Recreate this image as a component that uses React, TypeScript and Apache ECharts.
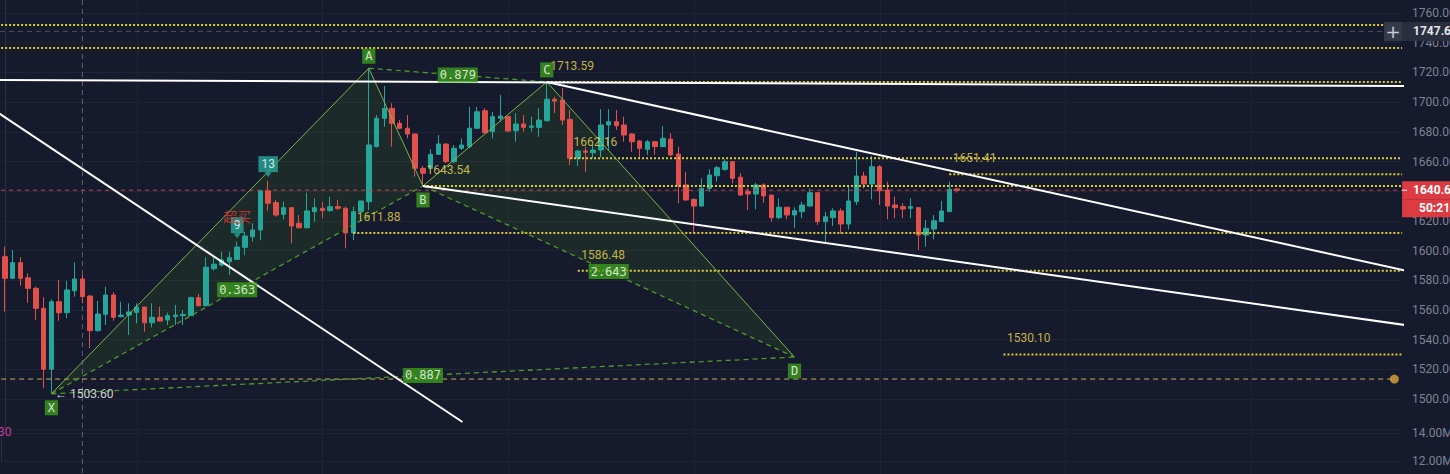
import React, { useEffect, useRef } from 'react';
import * as echarts from 'echarts';

// ---------- data ----------
const N = 181; // visible bar slots (candles + empty future area)
const categories: string[] = Array.from({ length: N }, (_, i) => String(i));

// [open, close, low, high]
const candles: number[][] = [
  [1595.9, 1581.3, 1558.9, 1602.6], [1581.3, 1591.9, 1580.9, 1600.4], [1591.9, 1581.3, 1576.2, 1595.5],
  [1581.7, 1574.6, 1564.9, 1584.7], [1574.6, 1561.1, 1553.3, 1575.7], [1561.1, 1520.1, 1507.3, 1568.5],
  [1520.1, 1565.6, 1503.6, 1567.2], [1565.6, 1558.2, 1552.8, 1580.2], [1558.2, 1573.5, 1554.4, 1579.5],
  [1573.0, 1580.9, 1569.0, 1592.1], [1580.9, 1569.0, 1564.5, 1583.6], [1569.4, 1546.1, 1534.2, 1570.1],
  [1546.1, 1557.3, 1545.5, 1566.1], [1557.1, 1570.1, 1549.9, 1575.7], [1570.1, 1555.1, 1552.8, 1571.9],
  [1555.5, 1556.6, 1555.0, 1565.6], [1556.6, 1558.7, 1543.2, 1564.5], [1558.4, 1562.0, 1551.0, 1564.5],
  [1562.0, 1551.4, 1545.4, 1562.2], [1551.4, 1555.1, 1548.3, 1564.5], [1555.1, 1552.6, 1552.1, 1562.2],
  [1553.3, 1556.2, 1549.9, 1558.2], [1555.5, 1556.6, 1549.9, 1563.4], [1556.2, 1557.1, 1549.9, 1560.0],
  [1556.2, 1568.3, 1556.0, 1569.0], [1568.3, 1562.9, 1562.5, 1570.8], [1562.9, 1588.8, 1562.5, 1595.5],
  [1587.8, 1590.8, 1586.5, 1595.5], [1590.3, 1593.7, 1589.2, 1599.3], [1592.5, 1595.2, 1583.6, 1599.3],
  [1594.1, 1602.4, 1593.7, 1606.0], [1602.2, 1609.8, 1597.0, 1612.7], [1609.4, 1613.9, 1606.0, 1618.4],
  [1613.9, 1640.3, 1607.1, 1640.6], [1640.3, 1631.9, 1626.9, 1647.1], [1632.3, 1624.0, 1622.8, 1634.1],
  [1624.4, 1628.9, 1621.1, 1632.9], [1628.9, 1616.6, 1604.9, 1629.2], [1618.4, 1615.4, 1615.0, 1624.0],
  [1615.4, 1626.7, 1615.0, 1639.0], [1626.2, 1628.9, 1619.5, 1635.2], [1628.5, 1626.9, 1621.8, 1632.9],
  [1626.9, 1629.6, 1626.2, 1636.3], [1629.6, 1628.5, 1627.3, 1634.1], [1628.5, 1611.88, 1601.5, 1629.6],
  [1611.9, 1626.2, 1607.1, 1629.6], [1626.2, 1633.4, 1626.0, 1633.6], [1632.9, 1671.1, 1627.3, 1722.8],
  [1670.0, 1689.1, 1669.5, 1691.3], [1689.1, 1695.8, 1683.4, 1710.8], [1695.8, 1685.7, 1670.0, 1699.2],
  [1685.7, 1682.4, 1681.7, 1687.9], [1682.4, 1678.5, 1675.6, 1691.3], [1678.5, 1655.4, 1649.8, 1678.8],
  [1655.4, 1652.1, 1643.54, 1657.0], [1655.4, 1664.8, 1654.3, 1668.2], [1664.8, 1671.8, 1664.4, 1677.8],
  [1671.8, 1659.9, 1658.8, 1672.0], [1659.9, 1668.9, 1658.8, 1671.1], [1668.9, 1671.1, 1667.7, 1675.6],
  [1670.0, 1682.4, 1668.9, 1696.9], [1682.4, 1693.5, 1682.0, 1696.9], [1694.2, 1679.4, 1679.0, 1695.8],
  [1680.1, 1690.2, 1675.6, 1693.5], [1689.1, 1690.6, 1686.8, 1704.8], [1690.2, 1680.5, 1680.1, 1690.3],
  [1680.7, 1685.3, 1673.3, 1692.5], [1685.3, 1683.0, 1680.1, 1691.3], [1683.0, 1683.9, 1680.1, 1690.2],
  [1683.0, 1687.9, 1676.7, 1695.8], [1687.5, 1701.9, 1687.0, 1713.59], [1701.9, 1700.7, 1692.5, 1703.6],
  [1701.4, 1687.9, 1684.6, 1709.3], [1688.4, 1662.16, 1657.6, 1694.7], [1662.2, 1667.1, 1657.0, 1667.8],
  [1667.1, 1666.2, 1653.1, 1670.0], [1665.9, 1667.7, 1662.2, 1671.1], [1667.7, 1684.6, 1662.8, 1695.2],
  [1684.6, 1686.8, 1667.7, 1695.2], [1686.8, 1684.1, 1681.2, 1694.7], [1684.6, 1677.8, 1673.3, 1690.2],
  [1678.5, 1673.3, 1666.6, 1679.0], [1673.8, 1668.9, 1662.2, 1674.5], [1668.2, 1673.3, 1664.4, 1674.5],
  [1673.3, 1670.0, 1664.4, 1673.5], [1670.0, 1675.6, 1669.8, 1683.9], [1675.1, 1664.4, 1663.7, 1679.0],
  [1665.0, 1643.5, 1631.9, 1670.0], [1644.2, 1634.1, 1633.6, 1653.1], [1634.5, 1630.0, 1611.6, 1635.2],
  [1630.0, 1641.9, 1629.8, 1648.7], [1641.9, 1650.9, 1639.7, 1654.7], [1650.4, 1655.8, 1646.4, 1657.0],
  [1654.7, 1659.9, 1653.8, 1661.5], [1659.9, 1648.7, 1645.3, 1660.2], [1649.4, 1637.4, 1637.0, 1652.1],
  [1639.7, 1638.1, 1627.3, 1641.9], [1638.1, 1644.2, 1627.8, 1645.7], [1644.2, 1636.8, 1632.3, 1645.3],
  [1637.4, 1622.2, 1619.5, 1637.6], [1622.2, 1629.2, 1621.1, 1635.2], [1629.2, 1624.0, 1621.1, 1629.4],
  [1624.0, 1626.9, 1615.0, 1629.2], [1626.2, 1630.7, 1621.8, 1632.9], [1630.0, 1639.0, 1629.6, 1641.9],
  [1639.0, 1619.5, 1617.2, 1639.2], [1619.5, 1622.8, 1604.9, 1626.2], [1622.2, 1626.7, 1616.6, 1628.5],
  [1626.7, 1617.9, 1611.2, 1628.5], [1617.9, 1633.4, 1614.3, 1644.2], [1632.9, 1650.2, 1630.7, 1666.6],
  [1650.2, 1644.8, 1641.9, 1653.1], [1644.8, 1656.5, 1634.5, 1663.7], [1656.5, 1640.3, 1630.7, 1657.6],
  [1640.8, 1630.0, 1621.1, 1646.4], [1630.7, 1628.9, 1621.8, 1636.3], [1629.6, 1628.0, 1621.8, 1631.9],
  [1628.5, 1629.6, 1621.8, 1635.2], [1628.9, 1610.5, 1600.4, 1629.2], [1610.5, 1615.0, 1602.6, 1620.6],
  [1614.5, 1620.1, 1607.6, 1624.0], [1619.5, 1626.7, 1619.3, 1633.4], [1626.2, 1641.3, 1626.0, 1646.4],
  [1641.5, 1640.6, 1639.1, 1641.9],
];

// horizontal levels: start bar index, price, label
const levelStarts: number[] = [-0.5, -0.5, 70, 73, 122, 54, 45, 74, 129];
const levelPrices: number[] = [1752.0, 1736.4, 1713.59, 1662.16, 1651.41, 1643.54, 1611.88, 1586.48, 1530.10];
const levelShowLabel: boolean[] = [false, false, true, true, true, true, true, true, true];

const supportPrice = 1513.5;
const supportDotIdx = 179.5;
const currentPrice = 1640.63;
const countdown = '50:21';
const crossPrice = 1747.62;
const crossIdx = 10;
const vGridIdx: number[] = [17, 41, 65, 89, 113, 137, 161];

// white trend lines: [[idx, price], [idx, price]]
const trendLines: number[][][] = [
  [[-1, 1714.9], [181, 1710.8]],
  [[70, 1713.59], [181, 1586.5]],
  [[54, 1643.54], [181, 1549.8]],
  [[-1, 1693.2], [59.1, 1484.6]],
];

// harmonic XABCD pattern
const patternNames: string[] = ['X', 'A', 'B', 'C', 'D'];
const patternIdx: number[] = [6, 47, 54, 70, 102];
const patternPrice: number[] = [1503.6, 1722.8, 1643.54, 1713.59, 1528.3];
const patternLabelBelow: boolean[] = [true, false, true, false, true];
const solidEdges: number[][] = [[0, 1], [1, 2], [2, 3], [3, 4]];
const dashedEdges: number[][] = [[0, 2], [1, 3], [2, 4], [0, 4]];
const ratioLabels: string[] = ['0.363', '0.879', '2.643', '0.887'];
const triangles: number[][] = [[0, 1, 2], [2, 3, 4]];

// TD sequential labels
const tdIdx: number[] = [30, 34];
const tdText: string[] = ['9', '13'];
const overboughtIdx = 30;
const overboughtText = '超买';

// volume axis
const volMin = 12;
const volMax = 14;

// ---------- style ----------
const BG = '#151a2c';
const UP = '#26a69a';
const DOWN = '#e2504c';
const GRIDC = '#1e2336';
const YEL = '#dccb3a';
const YEL_TXT = '#efdc4c';
const GREEN_BOX = '#3b9a1c';
const AXIS_TXT = '#7e8496';

export default function App() {
  const ref = useRef<HTMLDivElement>(null);

  useEffect(() => {
    if (!ref.current) return;
    const chart = echarts.init(ref.current, undefined, { renderer: 'svg' });

    const levelSeries = levelPrices.map((p, i) => ({
      type: 'line', xAxisIndex: 1, yAxisIndex: 0, silent: true, z: 3,
      symbol: 'none',
      data: [[levelStarts[i], p], [N - 0.5, p]],
      lineStyle: { color: YEL, width: 2, type: 'dotted' },
    }));

    const levelLabelSeries = {
      type: 'scatter', xAxisIndex: 1, yAxisIndex: 0, silent: true, z: 6,
      symbolSize: 1, itemStyle: { color: 'rgba(0,0,0,0)' },
      data: levelPrices.map((p, i) => ({ value: [levelStarts[i], p], label: { show: levelShowLabel[i] } })),
      label: {
        position: 'right', distance: 0, offset: [3, -16], color: YEL_TXT, fontSize: 12,
        fontFamily: 'Roboto, sans-serif',
        formatter: (pr: any) => (pr.value[1] as number).toFixed(2),
      },
    };

    const trendSeries = trendLines.map((l) => ({
      type: 'line', xAxisIndex: 1, yAxisIndex: 0, silent: true, z: 4, symbol: 'none',
      data: l, lineStyle: { color: '#ffffff', width: 2 },
    }));

    const pt = (k: number) => [patternIdx[k], patternPrice[k]];
    const solidSeries = solidEdges.map((e) => ({
      type: 'line', xAxisIndex: 1, yAxisIndex: 0, silent: true, z: 3, symbol: 'none',
      data: [pt(e[0]), pt(e[1])], lineStyle: { color: '#7ab648', width: 1 },
    }));
    const dashedSeries = dashedEdges.map((e) => ({
      type: 'line', xAxisIndex: 1, yAxisIndex: 0, silent: true, z: 3, symbol: 'none',
      data: [pt(e[0]), pt(e[1])], lineStyle: { color: '#4f9a2a', width: 1.3, type: [5, 4] },
    }));

    const ratioSeries = {
      type: 'scatter', xAxisIndex: 1, yAxisIndex: 0, silent: true, z: 7,
      symbolSize: 1, itemStyle: { color: 'rgba(0,0,0,0)' },
      data: dashedEdges.map((e, i) => ({
        value: [(patternIdx[e[0]] + patternIdx[e[1]]) / 2, (patternPrice[e[0]] + patternPrice[e[1]]) / 2],
        name: ratioLabels[i],
      })),
      label: {
        show: true, position: 'inside', formatter: '{b}', color: '#ffffff', fontSize: 12,
        fontFamily: 'DejaVu Sans Mono, monospace', backgroundColor: GREEN_BOX, padding: [1, 2], lineHeight: 13,
      },
    };

    const letterSeries = {
      type: 'scatter', xAxisIndex: 1, yAxisIndex: 0, silent: true, z: 7,
      symbolSize: 1, itemStyle: { color: 'rgba(0,0,0,0)' },
      data: patternNames.map((n, k) => ({
        value: pt(k), name: n,
        label: { position: patternLabelBelow[k] ? 'bottom' : 'top', distance: patternLabelBelow[k] ? 6 : 4 },
      })),
      label: {
        show: true, formatter: '{b}', color: '#ffffff', fontSize: 12,
        fontFamily: 'DejaVu Sans Mono, monospace', backgroundColor: GREEN_BOX, padding: [1, 3], lineHeight: 13,
      },
    };

    const xLabelSeries = {
      type: 'scatter', xAxisIndex: 1, yAxisIndex: 0, silent: true, z: 7,
      symbolSize: 1, itemStyle: { color: 'rgba(0,0,0,0)' },
      data: [pt(0)],
      label: {
        show: true, position: 'right', distance: 3, color: '#ffffff', fontSize: 12,
        fontFamily: 'Roboto, sans-serif',
        formatter: () => '← ' + patternPrice[0].toFixed(2),
      },
    };

    const triSeries = {
      type: 'custom', xAxisIndex: 1, yAxisIndex: 0, silent: true, z: 1,
      data: triangles.map((_, i) => [i]),
      encode: { x: -1, y: -1 },
      renderItem: (_p: any, api: any) => {
        const tri = triangles[api.value(0)];
        const pts = tri.map((k) => api.coord([patternIdx[k], patternPrice[k]]));
        return { type: 'polygon', shape: { points: pts }, style: { fill: 'rgba(70,130,40,0.16)' } };
      },
    };

    const tdSeries = {
      type: 'scatter', xAxisIndex: 1, yAxisIndex: 0, silent: true, z: 7,
      symbol: 'triangle', symbolRotate: 180, symbolSize: [7, 5], symbolOffset: [0, -6],
      itemStyle: { color: UP },
      data: tdIdx.map((i, k) => ({ value: [i, candles[i][3]], name: tdText[k] })),
      label: {
        show: true, position: 'top', distance: 0, formatter: '{b}', color: '#ffffff', fontSize: 12,
        fontFamily: 'Roboto, sans-serif', backgroundColor: UP, padding: [2, 3], lineHeight: 12,
      },
    };

    const obSeries = {
      type: 'scatter', xAxisIndex: 1, yAxisIndex: 0, silent: true, z: 8,
      symbolSize: 1, itemStyle: { color: 'rgba(0,0,0,0)' },
      data: [{ value: [overboughtIdx, candles[overboughtIdx][3]], name: overboughtText }],
      label: {
        show: true, position: 'inside', offset: [0, -26], formatter: '{b}', color: '#e53935', fontSize: 14,
        fontFamily: 'Noto Sans CJK SC, sans-serif',
      },
    };

    const option: any = {
      animation: false,
      backgroundColor: BG,
      grid: [
        { left: 1.125, right: 47.9, top: -16.7, height: 445.5, containLabel: false, outerBoundsMode: 'none' },
        { left: 1.125, right: 47.9, top: 433, height: 28, containLabel: false, outerBoundsMode: 'none' },
      ],
      xAxis: [
        { type: 'category', gridIndex: 0, data: categories, show: false, boundaryGap: true },
        { type: 'value', gridIndex: 0, min: -0.5, max: N - 0.5, show: false },
        { type: 'value', gridIndex: 1, min: 0, max: 1, show: false },
      ],
      yAxis: [
        {
          type: 'value', gridIndex: 0, position: 'right', min: 1480, max: 1780, interval: 20,
          axisLine: { show: true, lineStyle: { color: '#2a2f42' } },
          axisTick: { show: false },
          axisLabel: {
            color: AXIS_TXT, fontSize: 12, fontFamily: 'Roboto, sans-serif', margin: 10,
            formatter: (v: number) => (v < 1500 || v > 1760 ? '' : v.toFixed(2)),
          },
          splitLine: { show: true, lineStyle: { color: GRIDC } },
        },
        {
          type: 'value', gridIndex: 1, position: 'right', min: volMin, max: volMax, interval: 2,
          axisLine: { show: true, lineStyle: { color: '#2a2f42' } },
          axisTick: { show: false },
          axisLabel: {
            color: AXIS_TXT, fontSize: 12, fontFamily: 'Roboto, sans-serif', margin: 10,
            formatter: (v: number) => v.toFixed(2) + 'M',
          },
          splitLine: { show: true, lineStyle: { color: GRIDC } },
        },
      ],
      series: [
        triSeries,
        {
          type: 'candlestick', xAxisIndex: 0, yAxisIndex: 0, data: candles, barWidth: 5, z: 2,
          itemStyle: { color: UP, color0: DOWN, borderColor: UP, borderColor0: DOWN, borderWidth: 1 },
        },
        {
          type: 'line', xAxisIndex: 1, yAxisIndex: 0, silent: true, z: 3, symbol: 'none',
          data: [[-0.5, currentPrice], [N - 0.5, currentPrice]],
          lineStyle: { color: '#c8404c', width: 1, type: [4, 4] },
        },
        {
          type: 'line', xAxisIndex: 1, yAxisIndex: 0, silent: true, z: 3, symbol: 'none',
          data: [[-0.5, supportPrice], [supportDotIdx, supportPrice]],
          lineStyle: { color: '#c6ae62', width: 1, type: [5, 4] },
        },
        {
          type: 'scatter', xAxisIndex: 1, yAxisIndex: 0, silent: true, z: 6, symbolSize: 9,
          itemStyle: { color: '#e0a43a' }, data: [[supportDotIdx, supportPrice]],
        },
        ...levelSeries,
        ...solidSeries,
        ...dashedSeries,
        ...trendSeries,
        levelLabelSeries,
        ratioSeries,
        letterSeries,
        xLabelSeries,
        tdSeries,
        obSeries,
        { type: 'line', xAxisIndex: 2, yAxisIndex: 1, data: [], symbol: 'none' },
      ],
    };

    chart.setOption(option);

    const px = (i: number) => chart.convertToPixel({ xAxisIndex: 1 }, i) as number;
    const py = (p: number) => chart.convertToPixel({ yAxisIndex: 0 }, p) as number;
    const right = px(N - 0.5);
    const yCur = py(currentPrice);
    const yCross = py(crossPrice);
    const xCross = px(crossIdx);
    const H = 474;

    const graphics: any[] = [];
    vGridIdx.forEach((i) => {
      const x = Math.round(px(i)) + 0.5;
      graphics.push({ type: 'line', silent: true, z: 0, shape: { x1: x, y1: 0, x2: x, y2: H }, style: { stroke: GRIDC, lineWidth: 1 } });
    });
    graphics.push({ type: 'line', silent: true, z: 1, shape: { x1: xCross, y1: 0, x2: xCross, y2: H }, style: { stroke: '#5d6273', lineWidth: 1, lineDash: [5, 4] } });
    graphics.push({ type: 'line', silent: true, z: 1, shape: { x1: 0, y1: yCross, x2: right, y2: yCross }, style: { stroke: '#4a4f60', lineWidth: 1, lineDash: [5, 4] } });
    // crosshair price box
    graphics.push({ type: 'rect', silent: true, z: 50, shape: { x: right, y: yCross - 9.5, width: 60, height: 19 }, style: { fill: '#2a2f3f' } });
    graphics.push({ type: 'text', silent: true, z: 51, x: right + 11, y: yCross, style: { text: crossPrice.toFixed(2), fill: '#e4e6ec', font: 'bold 12px Roboto, sans-serif', verticalAlign: 'middle', align: 'left' } });
    graphics.push({ type: 'rect', silent: true, z: 50, shape: { x: right - 18, y: yCross - 9.5, width: 18, height: 19 }, style: { fill: '#353a4a' } });
    graphics.push({ type: 'text', silent: true, z: 51, x: right - 9, y: yCross, style: { text: '+', fill: '#c9ccd4', font: '18px DejaVu Sans, sans-serif', verticalAlign: 'middle', align: 'center' } });
    // current price box
    graphics.push({ type: 'rect', silent: true, z: 50, shape: { x: right, y: yCur - 9, width: 60, height: 18 }, style: { fill: '#dd3b42' } });
    graphics.push({ type: 'line', silent: true, z: 51, shape: { x1: right, y1: yCur, x2: right + 5, y2: yCur }, style: { stroke: '#ffffff', lineWidth: 1 } });
    graphics.push({ type: 'text', silent: true, z: 51, x: right + 11, y: yCur, style: { text: currentPrice.toFixed(2), fill: '#ffffff', font: 'bold 12px Roboto, sans-serif', verticalAlign: 'middle', align: 'left' } });
    graphics.push({ type: 'rect', silent: true, z: 50, shape: { x: right, y: yCur + 9, width: 60, height: 18 }, style: { fill: '#dd3b42' } });
    graphics.push({ type: 'text', silent: true, z: 51, x: right + 17, y: yCur + 18, style: { text: countdown, fill: '#ffffff', font: 'bold 12px Roboto, sans-serif', verticalAlign: 'middle', align: 'left' } });
    // cut-off indicator value at bottom-left
    graphics.push({ type: 'text', silent: true, z: 51, x: -2, y: 432, style: { text: '30', fill: '#c4409a', font: '12px Roboto, sans-serif', verticalAlign: 'middle', align: 'left' } });

    chart.setOption({ graphic: graphics });

    return () => chart.dispose();
  }, []);

  return <div ref={ref} style={{ position: 'absolute', left: 0, top: 0, width: 1450, height: 474 }} />;
}
